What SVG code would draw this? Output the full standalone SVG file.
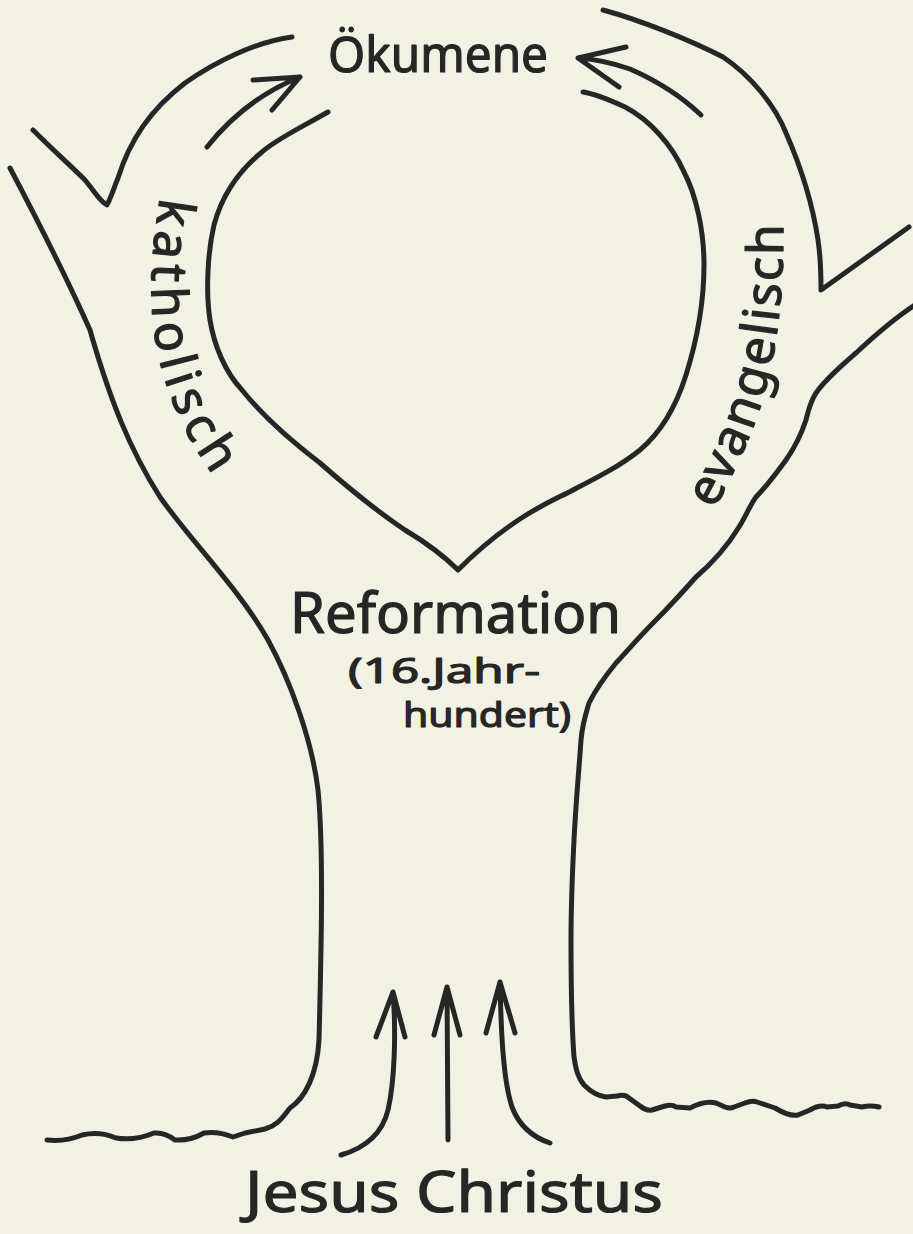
<svg xmlns="http://www.w3.org/2000/svg" width="913" height="1234" viewBox="0 0 913 1234">
<defs>
<style>
.ln{fill:none;stroke:#262626;stroke-width:5;stroke-linecap:round;stroke-linejoin:round}
.ar{fill:none;stroke:#262626;stroke-width:5;stroke-linecap:round;stroke-linejoin:round}
.tx{font-family:"Noto Sans","Open Sans","DejaVu Sans",sans-serif;fill:#262626;stroke:#262626;stroke-width:1.2;stroke-linejoin:round}
</style>
<path id="pk" d="M160,197 C144,300 144,385 224,490"/>
<path id="pe" d="M714,510 C760,425 786,360 783,208"/>
</defs>
<rect x="0" y="0" width="913" height="1234" fill="#f2f2e4"/>
<g id="tree">
<path class="ln" d="M10,168 C40,225 70,285 90,330 C110,400 130,450 160,497 C190,540 240,590 268,640 C290,680 312,740 318,790 C324,850 321,960 319,1040 C317,1075 305,1098 290,1108 C282,1118 278,1125 265,1129 L245,1133 L233,1137 Q218,1131 204,1133 Q190,1141 175,1140 Q165,1132 154,1133 Q135,1141 116,1138 Q100,1131 82,1135 Q65,1142 47,1140"/>
<path class="ln" d="M33,130 C55,152 70,165 85,180 C95,192 100,202 107,205 C112,195 115,185 118,178 C130,140 150,110 185,83 C215,62 255,42 292,37"/>
<path class="ln" d="M328,112 C300,128 275,140 262,152 C240,170 222,195 214,225 C207,255 206,295 210,320 C214,345 225,372 242,390 C262,415 290,440 320,463 C345,485 375,510 405,530 C430,545 448,560 458,570 C470,558 495,535 523,517 C545,503 560,497 573,490 C600,476 620,466 640,450 C660,433 675,410 686,375 C697,340 704,300 704,265 C704,230 696,195 684,172 C672,145 650,120 625,107 C610,100 595,94 583,92"/>
<path class="ln" d="M603,10 C640,20 690,40 723,57 C750,75 775,105 786,133 C800,165 812,200 818,240 C821,260 821,280 821,290 L909,227"/>
<path class="ln" d="M915,305 C895,318 870,340 856,353 C840,367 825,380 816,393 C810,402 808,412 806,420 C800,438 793,450 786,460 C775,475 765,488 756,497 C750,505 745,518 739,527 C725,550 710,565 696,577 C680,595 668,608 656,620 C640,636 628,650 616,663 C602,680 593,695 589,703 C585,716 582,728 581,740 C579,770 576,800 574,840 C572,880 571,910 571,940 C571,990 572,1030 574,1057 C576,1070 578,1078 584,1085 C592,1093 598,1096 606,1097 L617,1096 Q625,1094 629,1098 L640,1106 Q646,1111 652,1110 L665,1106 Q672,1104 676,1107 L690,1108 Q705,1100 716,1103 L725,1107 Q730,1109 734,1107 L745,1103 Q752,1100 757,1102 L775,1108 Q790,1117 798,1115 L810,1110 Q820,1104 827,1107 L838,1106 Q845,1102 850,1105 L862,1107 Q870,1105 879,1107"/>
</g>
<g id="connectors">
<path class="ar" d="M207,147 C230,118 260,93 300,77 M253,80 L300,77 L272,110"/>
<path class="ar" d="M701,115 C680,95 655,80 630,69 C610,62 592,59 578,58 M626,47 L578,58 L619,87"/>
<path class="ar" d="M341,1155 C365,1148 382,1135 388,1110 C395,1080 396,1030 393,992 M376,1037 L393,992 L405,1037"/>
<path class="ar" d="M448,1140 L447,987 M434,1035 L447,987 L460,1035"/>
<path class="ar" d="M550,1143 C535,1138 520,1128 512,1107 C503,1080 501,1030 500,982 M486,1033 L500,982 L515,1033"/>
</g>
<g id="oekumene"><text class="tx" x="328" y="72" font-size="50" textLength="220" lengthAdjust="spacingAndGlyphs">Ökumene</text></g>
<g id="katholisch"><text class="tx" font-size="50"><textPath href="#pk" textLength="292" lengthAdjust="spacing">katholisch</textPath></text></g>
<g id="evangelisch"><text class="tx" font-size="50"><textPath href="#pe" textLength="298" lengthAdjust="spacing">evangelisch</textPath></text></g>
<g id="reformation">
<text class="tx" x="290" y="633" font-size="56" textLength="331" lengthAdjust="spacingAndGlyphs">Reformation</text>
<text class="tx" x="348" y="683" font-size="35" textLength="192" lengthAdjust="spacingAndGlyphs">(16.Jahr-</text>
<text class="tx" x="403" y="727" font-size="35" textLength="168" lengthAdjust="spacingAndGlyphs">hundert)</text>
</g>
<g id="jesus"><text class="tx" x="245" y="1212" font-size="57" textLength="418" lengthAdjust="spacingAndGlyphs">Jesus Christus</text></g>
</svg>
